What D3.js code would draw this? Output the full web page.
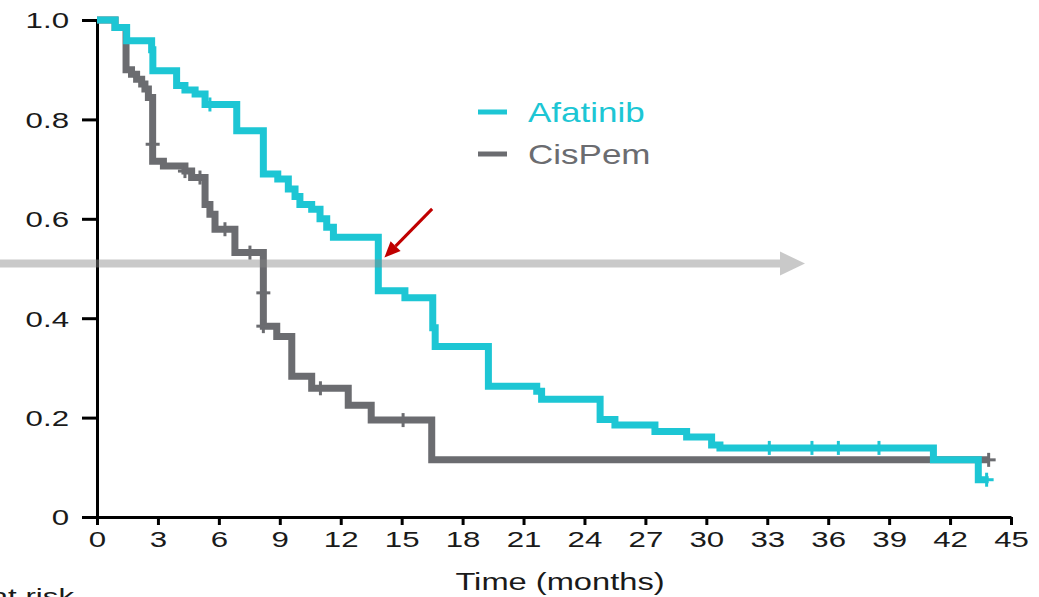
<!DOCTYPE html>
<html>
<head>
<meta charset="utf-8">
<script src="https://cdn.jsdelivr.net/npm/d3@7"></script>
<style>
	body { margin: 0; background: #fff; }
	svg { display: block; font-family: "Liberation Sans", Arial, sans-serif; }
</style>
</head>
<body>
<div id="chart"></div>
<script>
// step points: time (months) where survival changes, new survival value
var afatinibTime = [0, 0.89, 1.46, 2.69, 2.75, 3.92, 4.33, 4.83, 5.32, 6.88, 8.19, 8.9, 9.42, 9.75, 9.99, 10.57, 10.98, 11.31, 11.64, 13.85, 15.16, 16.53, 16.65, 19.27, 21.65, 21.89, 24.77, 25.5, 27.47, 29.03, 30.26, 30.67, 41.18, 43.39, 43.9];
var afatinibSurv = [1.0, 0.985, 0.958, 0.94, 0.898, 0.868, 0.859, 0.851, 0.83, 0.777, 0.69, 0.68, 0.66, 0.645, 0.629, 0.619, 0.6, 0.583, 0.563, 0.455, 0.441, 0.381, 0.343, 0.263, 0.253, 0.237, 0.196, 0.185, 0.172, 0.161, 0.145, 0.139, 0.115, 0.075, 0.075];
var afatinibCensorTime = [5.56, 33.1, 35.2, 36.5, 38.5, 43.8];
var afatinibCensorSurv = [0.83, 0.139, 0.139, 0.139, 0.139, 0.075];

var cispemTime = [0, 0.89, 1.43, 1.7, 1.95, 2.2, 2.36, 2.53, 2.74, 3.27, 4.33, 4.66, 5.32, 5.56, 5.81, 6.79, 8.19, 8.85, 9.59, 10.57, 12.37, 13.5, 16.48, 43.9];
var cispemSurv = [1.0, 0.985, 0.90, 0.891, 0.881, 0.871, 0.861, 0.844, 0.716, 0.706, 0.696, 0.683, 0.629, 0.609, 0.579, 0.532, 0.384, 0.363, 0.283, 0.259, 0.225, 0.195, 0.115, 0.115];
var cispemCensorTime = [2.74, 4.33, 5.07, 6.3, 7.53, 8.19, 8.19, 11.0, 15.07, 43.9];
var cispemCensorSurv = [0.75, 0.696, 0.683, 0.579, 0.532, 0.451, 0.384, 0.259, 0.195, 0.115];

var xTicks = [0, 3, 6, 9, 12, 15, 18, 21, 24, 27, 30, 33, 36, 39, 42, 45];
var yTicks = [0, 0.2, 0.4, 0.6, 0.8, 1.0];
var yTickLabels = ["0", "0.2", "0.4", "0.6", "0.8", "1.0"];

var seriesNames = ["Afatinib", "CisPem"];
var seriesColors = ["#1dc6d4", "#6b6c70"];

var _width = 1039, _height = 597;
var textStretch = 1.42;

var svg = d3.select("#chart").append("svg")
	.attr("width", _width)
	.attr("height", _height);

var x = d3.scaleLinear().domain([0, 45]).range([97, 1011]);
var y = d3.scaleLinear().domain([0, 1]).range([517, 20]);

function toPoints(times, surv) {
	return times.map(function(t, i) { return [t, surv[i]]; });
}

var stepLine = d3.line()
	.x(function(d) { return x(d[0]); })
	.y(function(d) { return y(d[1]); })
	.curve(d3.curveStepAfter);

//
// Axes
//
var yAxis = svg.append("g")
	.attr("transform", "translate(" + x(0) + ",0)")
	.call(d3.axisLeft(y).tickValues(yTicks).tickSize(15).tickSizeOuter(0)
		.tickFormat(function(d, i) { return yTickLabels[i]; }));

var xAxis = svg.append("g")
	.attr("transform", "translate(0," + y(0) + ")")
	.call(d3.axisBottom(x).tickValues(xTicks).tickSize(8).tickSizeOuter(0));

[xAxis, yAxis].forEach(function(ax) {
	ax.select(".domain").attr("stroke", "#000").attr("stroke-width", 3);
	ax.selectAll(".tick line").attr("stroke", "#000").attr("stroke-width", 3);
	ax.selectAll(".tick text")
		.attr("fill", "#1a1a1a")
		.style("font-size", "22px")
		.style("font-family", "'Liberation Sans', Arial, sans-serif");
});

yAxis.selectAll(".tick text")
	.attr("x", -28 / textStretch)
	.attr("dy", "0.36em")
	.attr("transform", "scale(" + textStretch + ",1)");

xAxis.selectAll(".tick text")
	.attr("y", 14)
	.attr("dy", "0.71em")
	.attr("transform", "scale(" + textStretch + ",1)");

// axis title
svg.append("text")
	.attr("transform", "translate(560,590) scale(" + textStretch + ",1)")
	.attr("text-anchor", "middle")
	.attr("fill", "#1a1a1a")
	.style("font-size", "23px")
	.text("Time (months)");

// cut-off label at the very bottom
svg.append("text")
	.attr("transform", "translate(74,604) scale(" + textStretch + ",1)")
	.attr("text-anchor", "end")
	.attr("fill", "#1a1a1a")
	.style("font-size", "22px")
	.text("No. at risk");

//
// Curves (CisPem underneath, Afatinib on top)
//
var curves = [
	{ name: "CisPem", color: seriesColors[1], pts: toPoints(cispemTime, cispemSurv), cens: toPoints(cispemCensorTime, cispemCensorSurv) },
	{ name: "Afatinib", color: seriesColors[0], pts: toPoints(afatinibTime, afatinibSurv), cens: toPoints(afatinibCensorTime, afatinibCensorSurv) }
];

curves.forEach(function(c) {
	svg.append("path")
		.datum(c.pts)
		.attr("fill", "none")
		.attr("stroke", c.color)
		.attr("stroke-width", 7)
		.attr("stroke-linejoin", "miter")
		.attr("d", stepLine);

	var g = svg.append("g");
	c.cens.forEach(function(p) {
		var cx = x(p[0]), cy = y(p[1]);
		g.append("line")
			.attr("x1", cx).attr("x2", cx)
			.attr("y1", cy - 7).attr("y2", cy + 7)
			.attr("stroke", c.color).attr("stroke-width", 3);
		g.append("line")
			.attr("x1", cx - 7).attr("x2", cx + 7)
			.attr("y1", cy).attr("y2", cy)
			.attr("stroke", c.color).attr("stroke-width", 3);
	});
});

//
// Annotations: median line arrow and red pointer
//
var medianY = y(0.51);
svg.append("path")
	.attr("d", "M0," + (medianY - 4) + "H780V" + (medianY - 12) + "L805," + medianY +
		"L780," + (medianY + 12) + "V" + (medianY + 4) + "H0Z")
	.attr("fill", "#888")
	.attr("fill-opacity", 0.45);

var tip = [x(14.15), y(0.522)], tail = [x(16.5), y(0.62)];
var ang = Math.atan2(tip[1] - tail[1], tip[0] - tail[0]);
var headLen = 16, headW = 7;
var bx = tip[0] - headLen * Math.cos(ang), by = tip[1] - headLen * Math.sin(ang);
svg.append("line")
	.attr("x1", tail[0]).attr("y1", tail[1])
	.attr("x2", bx).attr("y2", by)
	.attr("stroke", "#c00000").attr("stroke-width", 3);
svg.append("path")
	.attr("d", "M" + tip[0] + "," + tip[1] +
		"L" + (bx + headW * Math.sin(ang)) + "," + (by - headW * Math.cos(ang)) +
		"L" + (bx - headW * Math.sin(ang)) + "," + (by + headW * Math.cos(ang)) + "Z")
	.attr("fill", "#c00000");

//
// Legend
//
var legend = svg.append("g");
seriesNames.forEach(function(name, i) {
	var ly = 112 + i * 42;
	legend.append("line")
		.attr("x1", 478).attr("x2", 507)
		.attr("y1", ly).attr("y2", ly)
		.attr("stroke", seriesColors[i])
		.attr("stroke-width", 5);
	legend.append("text")
		.attr("transform", "translate(528," + (ly + 10) + ") scale(1.25,1)")
		.attr("fill", seriesColors[i])
		.style("font-size", "28px")
		.text(name);
});
</script>
</body>
</html>
